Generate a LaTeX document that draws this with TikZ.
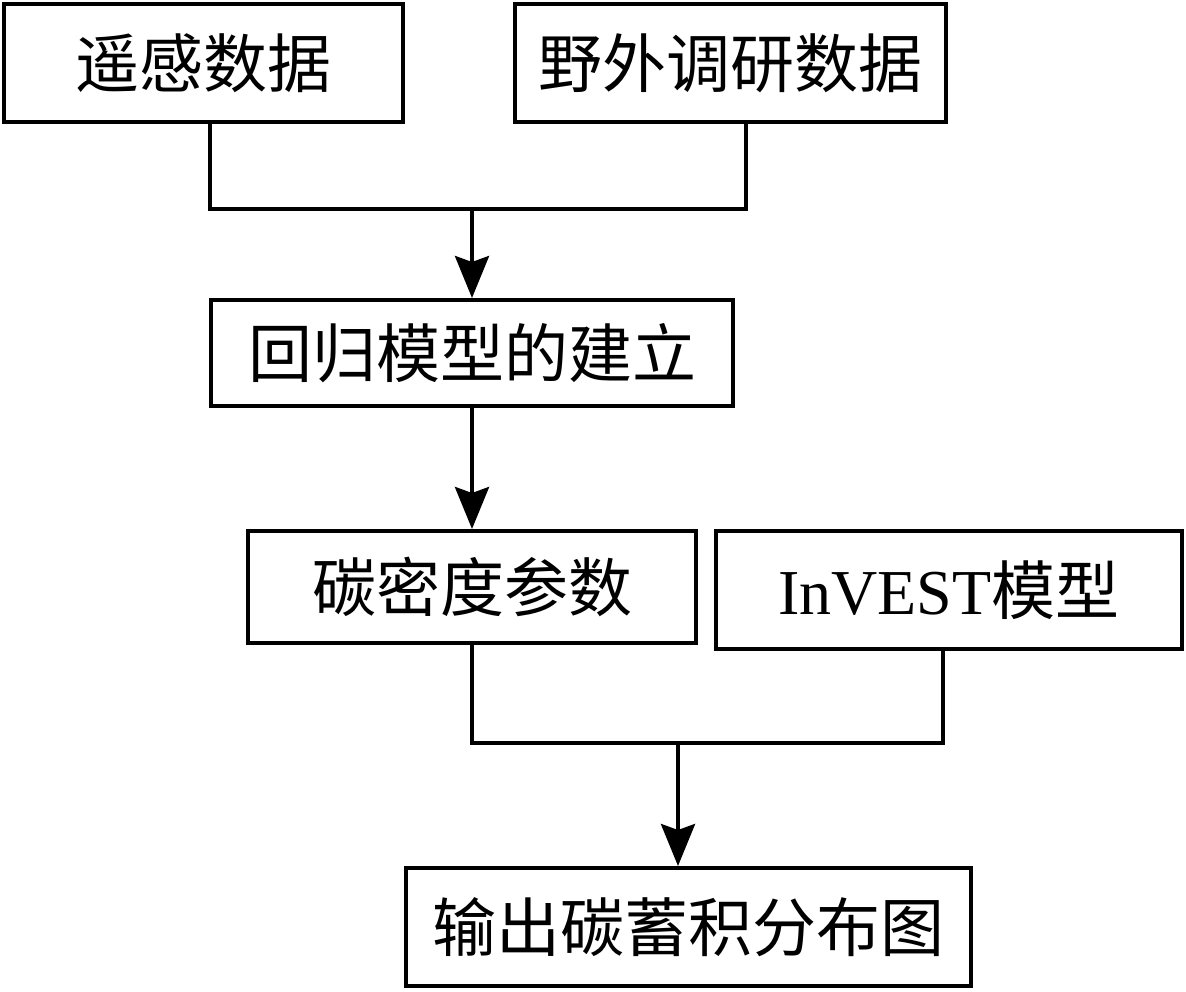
\documentclass[tikz,border=0pt]{standalone}
\usepackage{fontspec}
\setmainfont{Liberation Serif}
\newfontfamily\cjk{Noto Sans CJK SC}
\usetikzlibrary{arrows.meta}
\begin{document}
\begin{tikzpicture}[x=1pt,y=-1pt,
  box/.style={draw,line width=4pt,rectangle,inner sep=0pt,align=center,
    font=\fontsize{64}{76}\selectfont\cjk},
  link/.style={line width=4pt},
  flow/.style={line width=4pt,-{Stealth[length=42pt,width=34pt,inset=6pt]}}]
\useasboundingbox (0,0) rectangle (1186,991);
\node[box,minimum width=399pt,minimum height=118pt] (b1) at (203.5,63) {遥感数据};
\node[box,minimum width=431pt,minimum height=118pt] (b2) at (730.5,63) {野外调研数据};
\node[box,minimum width=522pt,minimum height=106pt] (b3) at (472,353) {回归模型的建立};
\node[box,minimum width=448pt,minimum height=112pt] (b4) at (472,587) {碳密度参数};
\node[box,minimum width=466pt,minimum height=118pt] (b5) at (949,590) {{\rmfamily InVEST}模型};
\node[box,minimum width=565pt,minimum height=118pt] (b6) at (688.5,927) {输出碳蓄积分布图};
\coordinate (m1) at (472,209);
\coordinate (m2) at (678,743);
\draw[link] ([xshift=6pt]b1.south) |- (m1) -| ([xshift=15pt]b2.south);
\draw[flow] (m1) -- (b3.north);
\draw[flow] (b3.south) -- (b4.north);
\draw[link] (b4.south) |- (m2) -| ([xshift=-6pt]b5.south);
\draw[flow] (m2) -- (b6.north -| m2);
\end{tikzpicture}
\end{document}
